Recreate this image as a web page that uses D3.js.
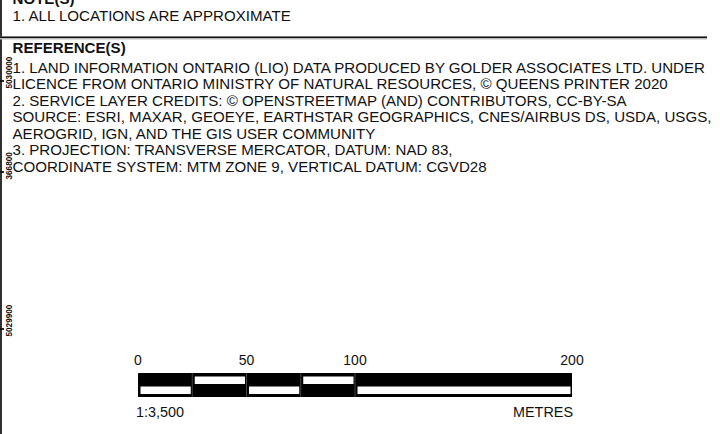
<!DOCTYPE html>
<html>
<head>
<meta charset="utf-8">
<script src="https://cdn.jsdelivr.net/npm/d3@7"></script>
<style>
  html, body { margin: 0; padding: 0; background: #fff; }
  svg { display: block; font-family: "Liberation Sans", Arial, sans-serif; }
</style>
</head>
<body>
<svg id="chart" width="720" height="434"></svg>
<script>
// ---- data ----
const noteTitle = "NOTE(S)";
const noteLines = ["1. ALL LOCATIONS ARE APPROXIMATE"];
const referenceTitle = "REFERENCE(S)";
const referenceLines = [
  "1. LAND INFORMATION ONTARIO (LIO) DATA PRODUCED BY GOLDER ASSOCIATES LTD. UNDER",
  "LICENCE FROM ONTARIO MINISTRY OF NATURAL RESOURCES, \u00A9 QUEENS PRINTER 2020",
  "2. SERVICE LAYER CREDITS: \u00A9 OPENSTREETMAP (AND) CONTRIBUTORS, CC-BY-SA",
  "SOURCE: ESRI, MAXAR, GEOEYE, EARTHSTAR GEOGRAPHICS, CNES/AIRBUS DS, USDA, USGS,",
  "AEROGRID, IGN, AND THE GIS USER COMMUNITY",
  "3. PROJECTION: TRANSVERSE MERCATOR, DATUM: NAD 83,",
  "COORDINATE SYSTEM: MTM ZONE 9, VERTICAL DATUM: CGVD28"
];
const gridLabels = ["5030000", "366800", "5029900"];
const gridTickY = [81, 172, 329];
const scaleTicks = [0, 50, 100, 200];
const scaleBreaks = [0, 25, 50, 75, 100, 200];
const scaleRatio = "1:3,500";
const scaleUnit = "METRES";

// ---- drawing ----
const svg = d3.select("#chart");
const W = 720, H = 434;

// left frame line
svg.append("line").attr("x1", 1).attr("x2", 1).attr("y1", 0).attr("y2", H)
  .attr("stroke", "#1a1a1a").attr("stroke-width", 1.8);

const textX = 12.5;
const fs = 15.1;
// Notes
svg.append("text").attr("x", textX).attr("y", 3.5).attr("font-size", fs).attr("font-weight", "bold").attr("fill", "#111").text(noteTitle);
svg.selectAll("text.note").data(noteLines).join("text").attr("class", "note")
  .attr("x", textX).attr("y", (d, i) => 20.5 + i * 16.4).attr("font-size", fs).attr("fill", "#111").text(d => d);

// rule
svg.append("line").attr("x1", 0).attr("x2", 707).attr("y1", 38).attr("y2", 38).attr("stroke", "#bbb").attr("stroke-width", 3);
svg.append("line").attr("x1", 0).attr("x2", 707).attr("y1", 37.2).attr("y2", 37.2).attr("stroke", "#111").attr("stroke-width", 1.6);

// References
svg.append("text").attr("x", textX).attr("y", 53).attr("font-size", fs).attr("font-weight", "bold").attr("fill", "#111").text(referenceTitle);
const refY = d3.scaleLinear().domain([0, referenceLines.length - 1]).range([73, 171.5]);
svg.selectAll("text.ref").data(referenceLines).join("text").attr("class", "ref")
  .attr("x", textX).attr("y", (d, i) => refY(i)).attr("font-size", fs).attr("fill", "#111").text(d => d);

// grid labels on left edge
gridLabels.forEach((lbl, i) => {
  const ty = gridTickY[i];
  svg.append("line").attr("x1", 0).attr("x2", 4).attr("y1", ty).attr("y2", ty).attr("stroke", "#111").attr("stroke-width", 1.8);
  svg.append("text")
    .attr("transform", `translate(12,${ty + 7.5}) rotate(-90)`)
    .attr("font-size", 8.2).attr("font-weight", "bold").attr("fill", "#111")
    .text(lbl);
});

// scale bar
const sx = d3.scaleLinear().domain([0, 200]).range([138, 572]);
const barTop = 373, barBot = 397;
svg.append("rect").attr("x", sx(0)).attr("y", barTop).attr("width", sx(200) - sx(0)).attr("height", barBot - barTop)
  .attr("fill", "#000").attr("rx", 0.5);
const segs = d3.pairs(scaleBreaks);
segs.forEach(([a, b], i) => {
  const top = i % 2 === 1;
  const y0 = top ? barTop + 3.5 : barTop + 13.5;
  svg.append("rect").attr("x", sx(a) + 2.5).attr("y", y0).attr("width", sx(b) - sx(a) - 4).attr("height", 7.5).attr("fill", "#fff");
});
scaleBreaks.slice(1, -1).forEach(v => {
  svg.append("line").attr("x1", sx(v)).attr("x2", sx(v)).attr("y1", barTop).attr("y2", barBot)
    .attr("stroke", "#555").attr("stroke-width", 0.8);
});
svg.selectAll("text.tick").data(scaleTicks).join("text").attr("class", "tick")
  .attr("x", d => sx(d)).attr("y", 365).attr("text-anchor", "middle").attr("font-size", 14).attr("fill", "#111").text(d => d);
svg.append("text").attr("x", sx(0) - 2).attr("y", 417).attr("font-size", 14.4).attr("fill", "#111").text(scaleRatio);
svg.append("text").attr("x", sx(200) + 1).attr("y", 417).attr("text-anchor", "end").attr("font-size", 14.4).attr("fill", "#111").text(scaleUnit);
</script>
</body>
</html>
